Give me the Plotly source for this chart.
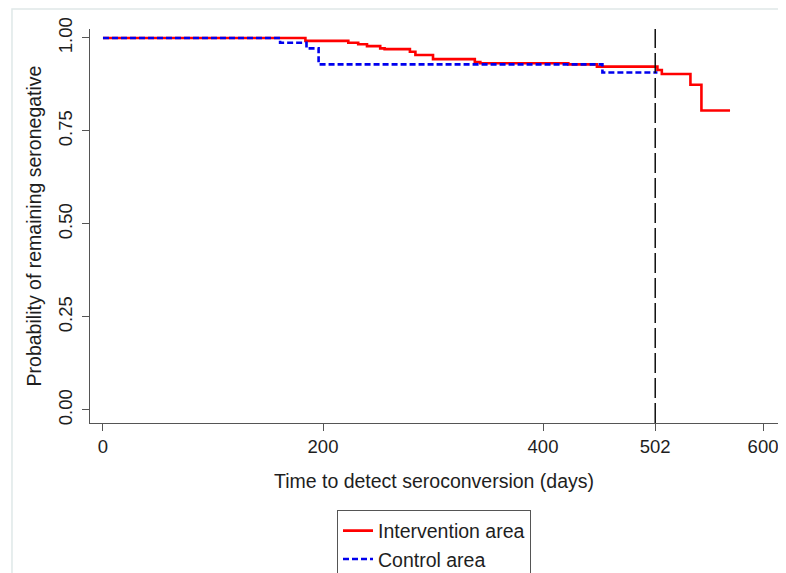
import plotly.graph_objects as go

# Kaplan-Meier step data
intervention_days = [0, 184, 223, 232, 240, 252, 256, 279, 284, 300, 338, 343, 423, 449, 504, 508, 534, 544, 570]
intervention_surv = [1.000, 0.992, 0.987, 0.983, 0.978, 0.972, 0.970, 0.963, 0.954, 0.943, 0.935, 0.932, 0.929, 0.923, 0.914, 0.903, 0.874, 0.805, 0.805]

control_days = [0, 161, 185, 196, 454, 504]
control_surv = [1.000, 0.987, 0.972, 0.929, 0.907, 0.907]

cutoff_day = 502
x_ticks = [0, 200, 400, 502, 600]
y_ticks = [0.0, 0.25, 0.5, 0.75, 1.0]
y_tick_text = ["0.00", "0.25", "0.50", "0.75", "1.00"]

font_family = "Liberation Sans, Arial, sans-serif"
text_color = "#1e1e1e"
tick_size = 18.5
title_size = 19.5

fig = go.Figure()
fig.add_trace(go.Scatter(
    x=intervention_days, y=intervention_surv, mode="lines",
    line=dict(color="#ff0000", width=2.6, shape="hv"),
    name="Intervention area"))
fig.add_trace(go.Scatter(
    x=control_days, y=control_surv, mode="lines",
    line=dict(color="#0000ee", width=2.6, shape="hv", dash="6px,3px"),
    name="Control area"))

fig.add_vline(x=cutoff_day, line=dict(color="#111111", width=1.5, dash="20px,5px"))

# faint outer frame of the original picture
fig.add_shape(type="rect", xref="paper", yref="paper",
              x0=-0.1134, x1=1.05, y0=-0.5, y1=1.0508,
              line=dict(color="#dfe8e8", width=1.5), fillcolor="rgba(0,0,0,0)", layer="below")

# the page body adds an 8px offset, so the figure is 8px smaller than the window
fig.update_layout(
    width=778, height=565,
    margin=dict(l=82, r=8, t=21, b=150, autoexpand=False),
    paper_bgcolor="white", plot_bgcolor="white",
    font=dict(family=font_family, size=title_size, color=text_color),
    showlegend=True,
    legend=dict(
        x=0.5, y=-0.222, xanchor="center", yanchor="top",
        bordercolor="#555555", borderwidth=1, bgcolor="white",
        font=dict(size=title_size, color=text_color),
        tracegroupgap=0,
    ),
)

fig.update_xaxes(
    range=[-11.8, 613.6], tickvals=x_ticks, ticktext=[str(v) for v in x_ticks],
    showgrid=False, zeroline=False, showline=True, linecolor="#555555", linewidth=1,
    ticks="outside", ticklen=7, tickcolor="#555555", automargin=False,
    tickfont=dict(size=tick_size, color=text_color),
    title=dict(text="Time to detect seroconversion (days)", standoff=18,
               font=dict(size=title_size, color=text_color)),
)
fig.update_yaxes(
    range=[-0.035, 1.024], tickvals=y_ticks, ticktext=y_tick_text, tickangle=-90,
    showgrid=False, zeroline=False, showline=True, linecolor="#555555", linewidth=1,
    ticks="outside", ticklen=7, tickcolor="#555555", ticklabelstandoff=3, automargin=False,
    tickfont=dict(size=tick_size, color=text_color),
    title=dict(text="Probability of remaining seronegative", standoff=7,
               font=dict(size=title_size, color=text_color)),
)

fig.write_html("out.html")
